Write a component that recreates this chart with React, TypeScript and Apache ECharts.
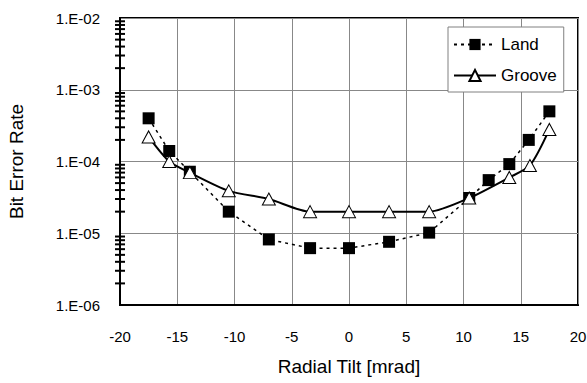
import React, { useEffect, useRef } from "react";
import * as echarts from "echarts";

const landX = [-17.5, -15.7, -13.9, -10.5, -7.0, -3.4, 0, 3.5, 7.0, 10.5, 12.2, 14.0, 15.7, 17.5];
const landY = [4.0e-4, 1.4e-4, 7.2e-5, 2.0e-5, 8.2e-6, 6.2e-6, 6.2e-6, 7.6e-6, 1.02e-5, 3.1e-5, 5.5e-5, 9.2e-5, 2.0e-4, 5.0e-4];
const grooveX = [-17.5, -15.7, -13.9, -10.5, -7.0, -3.4, 0, 3.5, 7.0, 10.5, 14.0, 15.8, 17.5];
const grooveY = [2.2e-4, 1.0e-4, 7.0e-5, 3.9e-5, 3.0e-5, 2.0e-5, 2.0e-5, 2.0e-5, 2.0e-5, 3.1e-5, 6.0e-5, 8.8e-5, 2.8e-4];
const yTickValues = [1e-6, 1e-5, 1e-4, 1e-3, 1e-2];
const yTickLabels = ["1.E-06", "1.E-05", "1.E-04", "1.E-03", "1.E-02"];
const minorTickMantissas = [2, 3, 4, 5, 6, 7, 8, 9];
const decades = [1e-6, 1e-5, 1e-4, 1e-3];

const FONT = "'Liberation Sans', Arial, sans-serif";

export default function App() {
  const ref = useRef<HTMLDivElement>(null);
  useEffect(() => {
    if (!ref.current) return;
    const chart = echarts.init(ref.current, null, { renderer: "svg" });
    const minorTicks: number[][] = [];
    decades.forEach((d) => minorTickMantissas.forEach((m) => minorTicks.push([-20, d * m])));
    const labelFor = (v: number) => {
      let best = 0;
      yTickValues.forEach((t, i) => {
        if (Math.abs(Math.log10(t) - Math.log10(v)) < Math.abs(Math.log10(yTickValues[best]) - Math.log10(v))) best = i;
      });
      return yTickLabels[best];
    };
    chart.setOption({
      animation: false,
      backgroundColor: "#fff",
      grid: {
        left: 120,
        right: 9,
        top: 18,
        bottom: 78,
        show: true,
        borderColor: "#000",
        borderWidth: 2,
        backgroundColor: "transparent",
        outerBoundsMode: "none",
      },
      legend: {
        data: ["Land", "Groove"],
        orient: "vertical",
        left: 448,
        top: 27,
        padding: [9, 7, 8, 5],
        itemWidth: 42,
        itemHeight: 14,
        itemGap: 14,
        backgroundColor: "#fff",
        borderColor: "#808080",
        borderWidth: 1,
        borderRadius: 0,
        textStyle: { fontFamily: FONT, fontSize: 17, color: "#000" },
      },
      xAxis: {
        type: "value",
        min: -20,
        max: 20,
        interval: 5,
        name: "Radial Tilt [mrad]",
        nameLocation: "middle",
        nameGap: 52,
        nameTextStyle: { fontFamily: FONT, fontSize: 19, color: "#000" },
        axisLine: { show: true, onZero: false, lineStyle: { color: "#000", width: 2 } },
        axisTick: { show: false },
        axisLabel: { fontFamily: FONT, fontSize: 15, color: "#000", margin: 24 },
        splitLine: { show: true, lineStyle: { color: "#888", width: 1 } },
      },
      yAxis: {
        type: "log",
        logBase: 10,
        min: 1e-6,
        max: 1e-2,
        name: "Bit Error Rate",
        nameLocation: "middle",
        nameGap: 94,
        nameTextStyle: { fontFamily: FONT, fontSize: 19, color: "#000" },
        axisLine: { show: true, onZero: false, lineStyle: { color: "#000", width: 2 } },
        axisTick: { show: false },
        axisLabel: {
          fontFamily: FONT,
          fontSize: 15,
          color: "#000",
          margin: 20,
          formatter: (v: number) => labelFor(v),
        },
        splitLine: { show: true, lineStyle: { color: "#888", width: 1 } },
      },
      series: [
        {
          type: "scatter",
          clip: false,
          data: minorTicks,
          symbol: "rect",
          symbolSize: [10, 2],
          itemStyle: { color: "#000", opacity: 1 },
        },
        {
          name: "Land",
          type: "line",
          data: landX.map((x, i) => [x, landY[i]]),
          symbol: "rect",
          symbolSize: 12,
          itemStyle: { color: "#000", borderColor: "#000", borderWidth: 0 },
          lineStyle: { color: "#000", width: 1.5, type: [3, 4] },
          z: 3,
        },
        {
          name: "Groove",
          type: "line",
          data: grooveX.map((x, i) => [x, grooveY[i]]),
          smooth: 0.25,
          symbol: "triangle",
          symbolSize: [13, 12],
          itemStyle: { color: "#fff", borderColor: "#000", borderWidth: 1 },
          lineStyle: { color: "#000", width: 2 },
          z: 4,
        },
      ],
    });
    return () => chart.dispose();
  }, []);
  return (
    <div
      ref={ref}
      style={{ position: "fixed", left: 0, top: 0, width: 587, height: 383 }}
    />
  );
}
